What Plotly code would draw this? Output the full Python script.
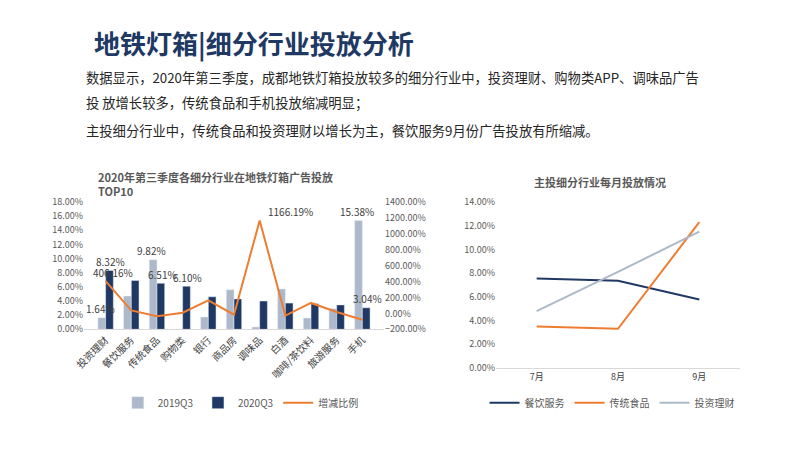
import plotly.graph_objects as go

cats = ["投资理财","餐饮服务","传统食品","购物类","银行","商品房","调味品","白酒","咖啡/茶饮料","旅游服务","手机"]
q2019 = [1.64,4.7,9.82,0,1.75,5.6,0.32,5.7,1.6,2.9,15.38]
q2020 = [8.32,6.9,6.51,6.10,4.6,4.3,4.0,3.7,3.6,3.45,3.04]
growth = [406.16,38,-37,9,164,-16,1166.19,-28,131,18,-80]

months = ["7月","8月","9月"]
canyin = [7.55,7.35,5.78]
chuantong = [3.5,3.3,12.3]
touzi = [4.8,8.1,11.5]

DX = -0.015
DY = 0.013
def X(v): return v + DX
def Y(v): return v + DY

navy = "#203864"; grey = "#adb9ca"; orange = "#ed7d31"
fig = go.Figure()
fig.add_bar(x=cats, y=q2019, name="2019Q3", marker_color=grey, xaxis="x", yaxis="y", legend="legend")
fig.add_bar(x=cats, y=q2020, name="2020Q3", marker_color=navy, xaxis="x", yaxis="y", legend="legend")
fig.add_scatter(x=cats, y=growth, name="增减比例", mode="lines", line=dict(color=orange, width=2), xaxis="x", yaxis="y2", legend="legend")

fig.add_scatter(x=months, y=canyin, name="餐饮服务", mode="lines", line=dict(color=navy, width=2), xaxis="x3", yaxis="y3", legend="legend2")
fig.add_scatter(x=months, y=chuantong, name="传统食品", mode="lines", line=dict(color=orange, width=2), xaxis="x3", yaxis="y3", legend="legend2")
fig.add_scatter(x=months, y=touzi, name="投资理财", mode="lines", line=dict(color=grey, width=2), xaxis="x3", yaxis="y3", legend="legend2")

tick = dict(family="Noto Sans CJK SC", size=9, color="#595959")
fig.update_layout(
    width=800, height=450, margin=dict(l=0, r=0, t=0, b=0, autoexpand=False),
    paper_bgcolor="white", plot_bgcolor="rgba(0,0,0,0)",
    font=dict(family="Noto Sans CJK SC", color="#595959"),
    barmode="group", bargap=0.4, bargroupgap=0,
    xaxis=dict(domain=[X(0.11), X(0.485)], anchor="y", tickangle=-45, tickfont=dict(size=10, color="#404040"), showline=True, linecolor="#d9d9d9", automargin=False),
    yaxis=dict(domain=[Y(0.273), Y(0.556)], anchor="x", range=[0, 18], dtick=2, tickformat=".2f", ticksuffix="%", showgrid=False, tickfont=tick, zeroline=False, automargin=False),
    yaxis2=dict(overlaying="y", anchor="x", side="right", range=[-200, 1400], dtick=200, tickformat=".2f", ticksuffix="%", showgrid=False, tickfont=tick, zeroline=False, automargin=False),
    xaxis3=dict(domain=[X(0.625), X(0.93)], anchor="y3", tickfont=dict(size=9, color="#404040"), showline=True, linecolor="#d9d9d9", range=[-0.5, 2.5], automargin=False),
    yaxis3=dict(domain=[Y(0.187), Y(0.556)], anchor="x3", range=[0, 14], dtick=2, tickformat=".2f", ticksuffix="%", showgrid=False, tickfont=tick, zeroline=False, automargin=False),
    legend=dict(orientation="h", x=X(0.306), y=Y(0.11), xanchor="center", yanchor="middle", font=dict(size=10), itemwidth=30),
    legend2=dict(orientation="h", x=X(0.77), y=Y(0.11), xanchor="center", yanchor="middle", font=dict(size=10), itemwidth=30),
    showlegend=True,
)

anns = [
    dict(x=0.12, y=0.91, text="<b>地铁灯箱|细分行业投放分析</b>", font=dict(size=26, color=navy)),
    dict(x=0.11, y=0.832, text="数据显示，2020年第三季度，成都地铁灯箱投放较多的细分行业中，投资理财、购物类APP、调味品广告", font=dict(size=13.3, color="#262626")),
    dict(x=0.11, y=0.778, text="投 放增长较多，传统食品和手机投放缩减明显；", font=dict(size=13.3, color="#262626")),
    dict(x=0.11, y=0.715, text="主投细分行业中，传统食品和投资理财以增长为主，餐饮服务9月份广告投放有所缩减。", font=dict(size=13.3, color="#262626")),
    dict(x=0.125, y=0.595, text="<b>2020年第三季度各细分行业在地铁灯箱广告投放<br>TOP10</b>", font=dict(size=11, color="#595959"), align="left"),
    dict(x=0.67, y=0.60, text="<b>主投细分行业每月投放情况</b>", font=dict(size=11, color="#595959")),
]
for a in anns:
    a["x"] = X(a["x"]); a["y"] = Y(a["y"])
    fig.add_annotation(xref="paper", yref="paper", xanchor="left", yanchor="middle", showarrow=False, **a)

labels = [(0,"1.64%","y",q2019[0],-0.2),(0,"8.32%","y",q2020[0],0.2),(0,"406.16%","y2",growth[0],0.3),
          (2,"9.82%","y",q2019[2],-0.2),(2,"6.51%","y",q2020[2],0.2),(3,"6.10%","y",q2020[3],0.2),
          (6,"1166.19%","y2",growth[6],1.2),(10,"15.38%","y",q2019[10],-0.2),(10,"3.04%","y",q2020[10],0.2)]
for i, t, ya, v, dx in labels:
    fig.add_annotation(x=i+dx, y=v, xref="x", yref=ya, text=t, showarrow=False, yshift=9, font=dict(size=10, color="#404040"))

fig.write_html("out.html")
